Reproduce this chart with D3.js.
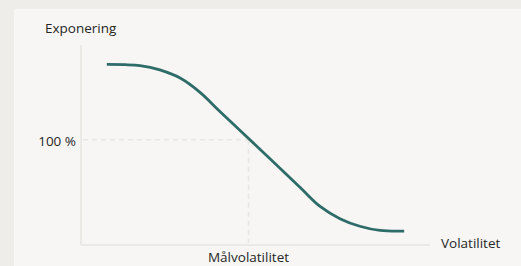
<!DOCTYPE html>
<html>
<head>
<meta charset="utf-8">
<script src="https://cdn.jsdelivr.net/npm/d3@7"></script>
<style>
  html, body { margin: 0; padding: 0; background: #eeede9; }
  svg { display: block; }
  text { font-family: "Open Sans", sans-serif; fill: #262626; }
</style>
</head>
<body>
<div id="chart-area"></div>
<script>
// volatility (0-100) vs exposure (%)
var volatility = [7.4, 12.6, 16.9, 22.6, 28.4, 34.1, 39.8, 48.4, 62.8, 68.5, 74.2, 79.9, 85.7, 92.6];
var exposure = [171.5, 171.3, 170.4, 166.3, 158.6, 145, 126.8, 100, 54.6, 36.6, 25, 17.8, 13.8, 13.2];
var targetVolatility = 48;
var targetExposure = 100;
var labels = { y: "Exponering", x: "Volatilitet", target: "Målvolatilitet", tick: "100 %" };

var width = 521;
var height = 266;

var svg = d3.select("#chart-area").append("svg")
    .attr("width", width)
    .attr("height", height);

// panel
svg.append("rect")
    .attr("x", 14)
    .attr("y", 9)
    .attr("width", width - 14)
    .attr("height", height - 9)
    .attr("fill", "#f7f6f4");

var x = d3.scaleLinear().domain([0, 100]).range([81, 430]);
var y = d3.scaleLinear().domain([0, 190]).range([245, 45]);

// axes
svg.append("line")
    .attr("x1", x(0)).attr("x2", x(0))
    .attr("y1", y(190)).attr("y2", y(0))
    .attr("stroke", "#ebe9e5")
    .attr("stroke-width", 2);

svg.append("line")
    .attr("x1", x(0)).attr("x2", x(100))
    .attr("y1", y(0)).attr("y2", y(0))
    .attr("stroke", "#ebe9e5")
    .attr("stroke-width", 2);

// guide lines to the target point
svg.append("line")
    .attr("x1", x(0) + 2).attr("x2", x(targetVolatility))
    .attr("y1", y(targetExposure)).attr("y2", y(targetExposure))
    .attr("stroke", "#e8e6e1")
    .attr("stroke-width", 1.5)
    .attr("stroke-dasharray", "5,4");

svg.append("line")
    .attr("x1", x(targetVolatility)).attr("x2", x(targetVolatility))
    .attr("y1", y(targetExposure)).attr("y2", y(0) - 2)
    .attr("stroke", "#e8e6e1")
    .attr("stroke-width", 1.5)
    .attr("stroke-dasharray", "5,4");

// curve
var points = volatility.map(function(v, i) {
    return [v, exposure[i]];
});

var line = d3.line()
    .x(function(d) { return x(d[0]); })
    .y(function(d) { return y(d[1]); })
    .curve(d3.curveCatmullRom.alpha(0.5));

svg.append("path")
    .datum(points)
    .attr("d", line)
    .attr("fill", "none")
    .attr("stroke", "#2e6c69")
    .attr("stroke-width", 2.8);

// labels
svg.append("text")
    .attr("x", 45)
    .attr("y", 33)
    .style("font-size", "13.5px")
    .text(labels.y);

svg.append("text")
    .attr("x", 76)
    .attr("y", y(targetExposure) + 6)
    .attr("text-anchor", "end")
    .style("font-size", "13.5px")
    .text(labels.tick);

svg.append("text")
    .attr("x", x(targetVolatility))
    .attr("y", 262)
    .attr("text-anchor", "middle")
    .style("font-size", "13.5px")
    .text(labels.target);

svg.append("text")
    .attr("x", 441)
    .attr("y", 248)
    .style("font-size", "13.5px")
    .text(labels.x);
</script>
</body>
</html>
